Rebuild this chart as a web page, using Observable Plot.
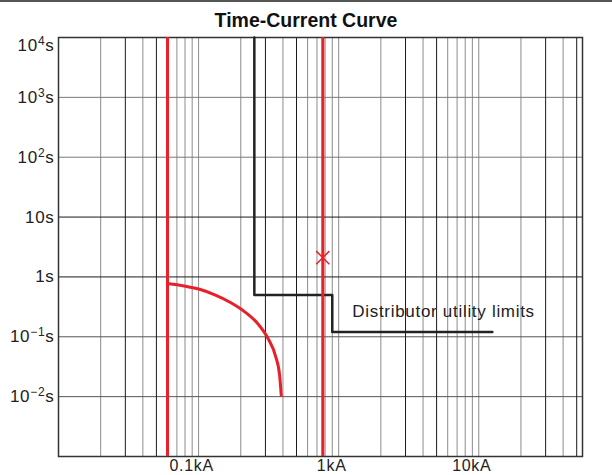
<!DOCTYPE html>
<html><head><meta charset="utf-8">
<script src="https://cdn.jsdelivr.net/npm/d3@7"></script>
<script src="https://cdn.jsdelivr.net/npm/@observablehq/plot@0.6"></script>
<style>
html,body{margin:0;padding:0;background:#fff;}
#wrap{position:relative;width:612px;height:475px;overflow:hidden;font-family:"Liberation Sans",Arial,sans-serif;}
#topline{position:absolute;left:0;top:0;width:612px;height:2px;background:#555;}
#title{position:absolute;left:0;width:612px;top:9px;text-align:center;font-weight:bold;font-size:19.5px;color:#111;line-height:22px;}
#chart{position:absolute;left:0;top:0;}
</style></head><body>
<div id="wrap"><div id="chart"></div><div id="topline"></div><div id="title">Time-Current Curve</div></div>
<script>
// Grid lines (current in A, time in s)
const xGridLight = [20,40,60,70,80,90,100,200,400,600,700,800,900,1000,2000,4000,6000,7000,8000,9000,10000,20000,40000];
const xGridDark = [30,50,300,500,3000,5000,30000,50000];
const yGridLight = [1000,100];
const yGridMid = [0.1,0.01];
const yGridDark = [10,1];
// Tick labels
const xTickValues = [100,1000,10000];
const xTickLabels = ["0.1kA","1kA","10kA"];
const yTickValues = [1000,100,10,1,0.1,0.01];
const yTickLabels = ["10³s","10²s","10s","1s","10⁻¹s","10⁻²s"];
const yTopValue = [10000];
const yTopLabel = ["10⁴s"];
// Red device curve
const redLinesA = [60,770];
const curveA = [60,79,103,132,169,217,268,316,355,379,389];
const curveT = [0.776,0.705,0.616,0.498,0.374,0.254,0.160,0.090,0.0468,0.0225,0.0105];
// Test point
const markA = [770];
const markT = [2.1];
// Distributor utility limits (step)
const limitA = [250,250,900,900,12500];
const limitT = [10000,0.5,0.5,0.12,0.12];
const limitLabel = ["Distributor utility limits"];
const limitLabelA = [1250];
const limitLabelT = [0.265];

const curve = curveA.map((a,i)=>({a, t: curveT[i]}));
const limit = limitA.map((a,i)=>({a, t: limitT[i]}));
const marks = markA.map((a,i)=>({a, t: markT[i]}));
const yTicks = yTickValues.map((v,i)=>({v, label: yTickLabels[i]}));
const yTop = yTopValue.map((v,i)=>({v, label: yTopLabel[i]}));
const xTicks = xTickValues.map((v,i)=>({v, label: xTickLabels[i]}));
const limitText = limitLabel.map((s,i)=>({s, a: limitLabelA[i], t: limitLabelT[i]}));

const chart = Plot.plot({
  width: 612, height: 475,
  marginTop: 37, marginBottom: 19, marginLeft: 58, marginRight: 30,
  x: {type:"log", domain:[10,55000], axis:null},
  y: {type:"log", domain:[1e-3,1e4], axis:null},
  style: {background:"#fff", fontFamily:"Liberation Sans, Arial, sans-serif"},
  marks: [
    Plot.ruleX(xGridLight, {stroke:"#8c8c8c", strokeWidth:1}),
    Plot.ruleY(yGridLight, {stroke:"#7a7a7a", strokeWidth:1}),
    Plot.ruleY(yGridMid, {stroke:"#555", strokeWidth:1}),
    Plot.ruleX(xGridDark, {stroke:"#1a1a1a", strokeWidth:1}),
    Plot.ruleY(yGridDark, {stroke:"#1a1a1a", strokeWidth:1}),
    Plot.frame({stroke:"#333", strokeWidth:1.5}),
    Plot.line(limit, {x:"a", y:"t", stroke:"#222", strokeWidth:2.5}),
    Plot.ruleX(redLinesA, {stroke:"#e8202a", strokeWidth:3}),
    Plot.line(curve, {x:"a", y:"t", stroke:"#e8202a", strokeWidth:3, curve:"monotone-x"}),
    Plot.dot(marks, {x:"a", y:"t", symbol:"times", r:6, stroke:"#e8202a", strokeWidth:1.5}),
    Plot.text(limitText, {x:"a", y:"t", text:"s", textAnchor:"start", fontSize:17, fill:"#222"}),
    Plot.text(yTicks, {frameAnchor:"left", y:"v", text:"label", textAnchor:"end", dx:-4, fontSize:17, fill:"#222", className:"ylab"}),
    Plot.text(yTop, {frameAnchor:"left", y:"v", text:"label", textAnchor:"end", dx:-4, dy:8, fontSize:17, fill:"#222", className:"ylab"}),
    Plot.text(xTicks, {frameAnchor:"bottom", x:"v", text:"label", textAnchor:"middle", lineAnchor:"top", dy:3, dx:-7, fontSize:16, fill:"#222"})
  ]
});
chart.querySelectorAll("text").forEach(t=>t.setAttribute("letter-spacing","0.7"));
// Render superscript exponents as raised tspans
const supMap = {"⁰":"0","¹":"1","²":"2","³":"3","⁴":"4","⁵":"5","⁶":"6","⁷":"7","⁸":"8","⁹":"9","⁻":"−"};
chart.querySelectorAll("g.ylab text").forEach(t=>{
  const s = t.textContent;
  const m = s.match(/^(\d+)([⁰¹²³⁴⁵⁶⁷⁸⁹⁻]+)(.*)$/);
  if (!m) return;
  const ns = "http://www.w3.org/2000/svg";
  t.textContent = "";
  const a = document.createElementNS(ns,"tspan"); a.textContent = m[1];
  const b = document.createElementNS(ns,"tspan"); b.textContent = [...m[2]].map(c=>supMap[c]).join("");
  b.setAttribute("font-size","12"); b.setAttribute("dy","-6");
  const c = document.createElementNS(ns,"tspan"); c.textContent = m[3]; c.setAttribute("dy","6");
  t.append(a,b,c);
});
document.getElementById("chart").appendChild(chart);
</script>
</body></html>
